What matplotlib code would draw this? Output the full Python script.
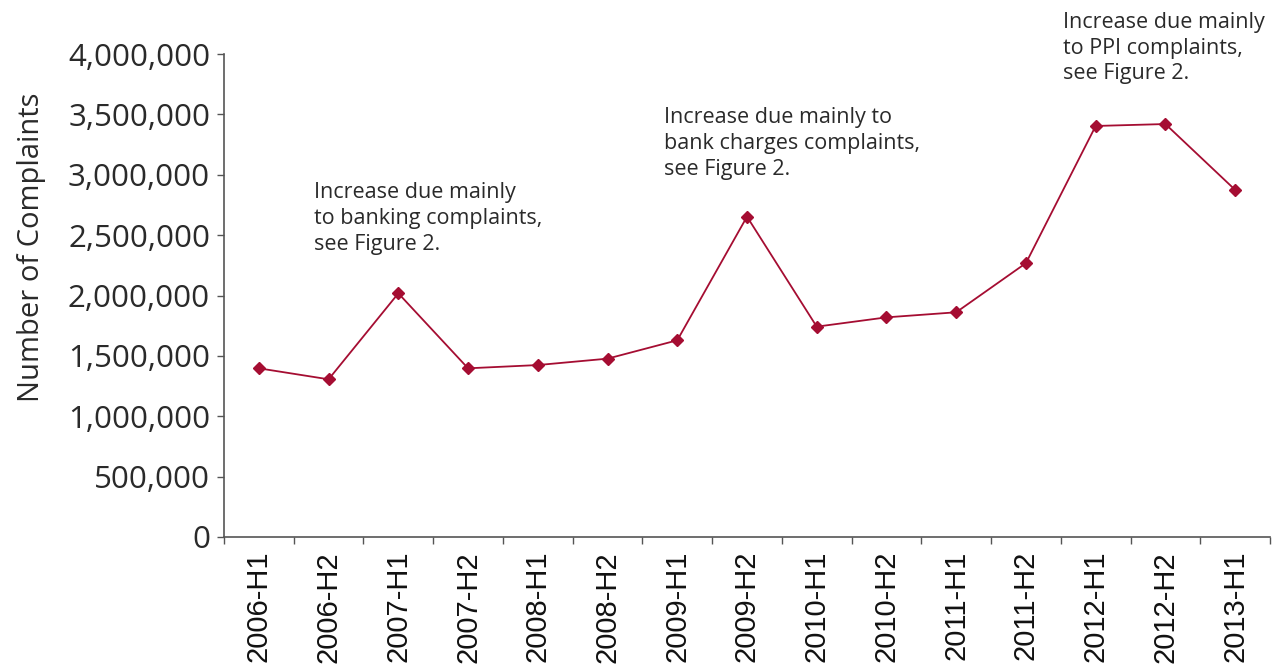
import matplotlib.pyplot as plt
import numpy as np

# half-year complaint counts
periods = ["2006-H1", "2006-H2", "2007-H1", "2007-H2", "2008-H1", "2008-H2",
           "2009-H1", "2009-H2", "2010-H1", "2010-H2", "2011-H1", "2011-H2",
           "2012-H1", "2012-H2", "2013-H1"]
complaints = [1397000, 1306000, 2018000, 1397000, 1424000, 1477000,
              1629000, 2653000, 1742000, 1819000, 1861000, 2268000,
              3404000, 3420000, 2875000]

notes = [
    (0.79, 2.94e6, "Increase due mainly\nto banking complaints,\nsee Figure 2."),
    (5.81, 3.56e6, "Increase due mainly to\nbank charges complaints,\nsee Figure 2."),
    (11.53, 4.35e6, "Increase due mainly\nto PPI complaints,\nsee Figure 2."),
]

line_col = "#A50D32"
axis_col = "#555555"

fig = plt.figure(figsize=(12.84, 6.72), dpi=100)
ax = fig.add_axes([224 / 1284, 1 - 537 / 672, (1270 - 224) / 1284, (537 - 54) / 672])

x = np.arange(len(periods))
ax.plot(x, complaints, color=line_col, lw=1.3, marker="D", markersize=6.5,
        markerfacecolor=line_col, markeredgecolor=line_col)

ax.set_xlim(-0.5, len(periods) - 0.5)
ax.set_ylim(0, 4000000)

# y axis
yt = np.arange(0, 4000001, 500000)
ax.set_yticks(yt)
ax.set_yticklabels([f"{v:,}" for v in yt], family="Open Sans", fontsize=22.5, color="#2a2a2a")
ax.set_ylabel("Number of Complaints", family="Open Sans", fontsize=21, color="#2a2a2a")
ax.yaxis.set_label_coords(-0.170, 0.60)
ax.tick_params(axis="y", length=5, width=1, color=axis_col, pad=5)

# x axis: labels at centres, ticks at category boundaries
ax.set_xticks(x)
ax.set_xticklabels(periods, rotation=90, family="Liberation Sans", fontsize=21,
                   va="top", ha="center", color="#111111")
ax.tick_params(axis="x", which="major", length=0, pad=10)
ax.set_xticks(np.arange(-0.5, len(periods)), minor=True)
ax.tick_params(axis="x", which="minor", length=5, width=1, color=axis_col)

for s in ["top", "right"]:
    ax.spines[s].set_visible(False)
for s in ["left", "bottom"]:
    ax.spines[s].set_color(axis_col)
    ax.spines[s].set_linewidth(1.2)

for nx, ny, txt in notes:
    ax.text(nx, ny, txt, ha="left", va="top", family="Open Sans", fontsize=15.5,
            color="#2a2a2a", linespacing=1.3)

fig.savefig("out.png", dpi=100)
